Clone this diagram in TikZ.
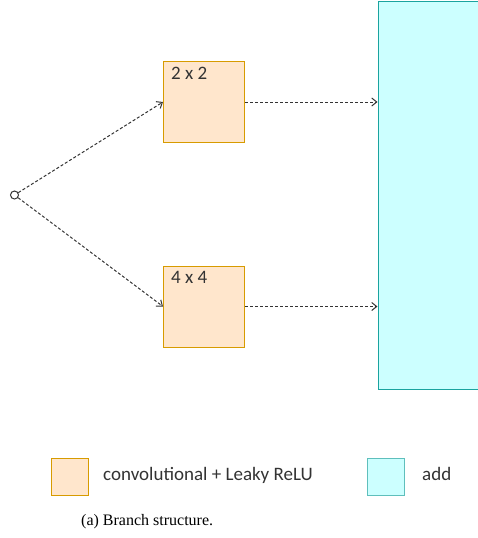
\documentclass[tikz,border=0pt]{standalone}
\usepackage{fontspec}
\setmainfont{Liberation Serif}
\newfontfamily\calib{Carlito}
\usetikzlibrary{arrows.meta}
\definecolor{convfill}{HTML}{FFE6CC}
\definecolor{convdraw}{HTML}{D79B00}
\definecolor{addfill}{HTML}{CCFFFF}
\definecolor{adddraw}{HTML}{1AA39F}
\definecolor{arrowcol}{HTML}{333333}
\tikzset{
  convbox/.style={draw=convdraw, fill=convfill, line width=1pt, minimum width=81pt, minimum height=81pt, inner sep=0pt},
  addbox/.style={draw=adddraw, fill=addfill, line width=1pt, inner sep=0pt},
  legconv/.style={draw=convdraw, fill=convfill, line width=1pt, minimum size=37pt, inner sep=0pt},
  legadd/.style={draw=adddraw!70, fill=addfill, line width=1pt, minimum size=37pt, inner sep=0pt},
  dasharrow/.style={draw=arrowcol, line width=1pt, dash pattern=on 3pt off 2pt, -{Straight Barb[length=5pt,width=8pt]}},
  lbl/.style={font=\calib\fontsize{19}{22}\selectfont, text=black!80, inner sep=0pt, anchor=base west},
}
\begin{document}
\begin{tikzpicture}[x=1pt,y=-1pt]
\useasboundingbox (0,0) rectangle (478,538);
\begin{scope}
\clip (0,0) rectangle (478,538);
\node[addbox, minimum width=110pt, minimum height=388.5pt, anchor=north west] (add) at (377.5,0.5) {};
\end{scope}
\node[convbox, anchor=north west] (b2) at (163,61) {};
\node[convbox, anchor=north west] (b4) at (163,265.5) {};
\node[lbl] (t2) at (171,79) {2 x 2};
\node[lbl] (t4) at (171,283.5) {4 x 4};
\node[draw=black!80, line width=1pt, circle, minimum size=8pt, inner sep=0pt] (in) at (14.5,195) {};
\draw[dasharrow] (in) -- (b2.west);
\draw[dasharrow] (in) -- (b4.west);
\draw[dasharrow] (b2.east) -- (b2.east -| add.west);
\draw[dasharrow] (b4.east) -- (b4.east -| add.west);
\node[legconv, anchor=north west] (lc) at (50.5,458) {};
\node[legadd, anchor=north west] (la) at (366.5,458) {};
\node[lbl] (lct) at (103,480) {convolutional + Leaky ReLU};
\node[lbl] (lat) at (422,480) {add};
\node[inner sep=0pt, anchor=base west, font=\fontsize{16}{19}\selectfont] (cap) at (81,525) {(a) Branch structure.};
\end{tikzpicture}
\end{document}
